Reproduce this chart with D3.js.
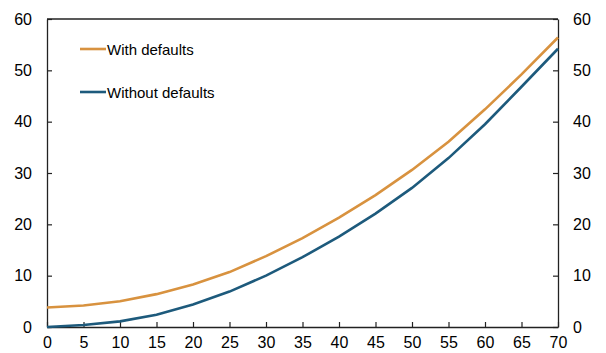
<!DOCTYPE html>
<html>
<head>
<meta charset="utf-8">
<script src="https://cdn.jsdelivr.net/npm/d3@7"></script>
<style>
  body { margin: 0; background: #fff; }
  text { font-family: "Liberation Sans", Arial, sans-serif; fill: #000; }
</style>
</head>
<body>
<div id="chart"></div>
<script>
const years = [0, 5, 10, 15, 20, 25, 30, 35, 40, 45, 50, 55, 60, 65, 70];
const withDefaults = [3.8, 4.2, 5.0, 6.4, 8.3, 10.7, 13.8, 17.3, 21.3, 25.7, 30.6, 36.1, 42.4, 49.2, 56.4];
const withoutDefaults = [0, 0.4, 1.1, 2.4, 4.4, 6.9, 10.0, 13.6, 17.6, 22.1, 27.1, 32.9, 39.5, 46.8, 54.2];
const seriesNames = ["With defaults", "Without defaults"];
const yTicks = [0, 10, 20, 30, 40, 50, 60];

const colors = ["#D8923F", "#1D5A7C"];

const fullWidth = 606;
const fullHeight = 353;
const margin = { top: 19, right: 48, bottom: 26, left: 47 };
const width = fullWidth - margin.left - margin.right;
const height = fullHeight - margin.top - margin.bottom;

const svg = d3
  .select("#chart")
  .append("svg")
  .attr("width", fullWidth)
  .attr("height", fullHeight);

const g = svg
  .append("g")
  .attr("transform", `translate(${margin.left}, ${margin.top})`);

const x = d3.scaleLinear().domain([0, 70]).range([0, width]);
const y = d3.scaleLinear().domain([0, 60]).range([height, 0]);

// frame top line
g.append("line")
  .attr("x1", 0)
  .attr("x2", width)
  .attr("y1", 0)
  .attr("y2", 0)
  .attr("stroke", "#222")
  .attr("stroke-width", 1.3);

const styleAxis = sel => {
  sel.select(".domain").attr("stroke", "#222").attr("stroke-width", 1.3);
  sel.selectAll(".tick line").attr("stroke", "#222").attr("stroke-width", 1.2);
  sel.selectAll(".tick text").style("font-size", "16px").attr("fill", "#000");
};

g.append("g")
  .attr("transform", `translate(0, ${height})`)
  .call(
    d3.axisBottom(x)
      .tickValues(years)
      .tickSizeInner(-5)
      .tickSizeOuter(0)
      .tickPadding(10)
  )
  .call(styleAxis);

g.append("g")
  .call(
    d3.axisLeft(y)
      .tickValues(yTicks)
      .tickSizeInner(-5)
      .tickSizeOuter(0)
      .tickPadding(15)
  )
  .call(styleAxis);

g.append("g")
  .attr("transform", `translate(${width}, 0)`)
  .call(
    d3.axisRight(y)
      .tickValues(yTicks)
      .tickSizeInner(-5)
      .tickSizeOuter(0)
      .tickPadding(15)
  )
  .call(styleAxis);

const line = d3
  .line()
  .x((d, i) => x(years[i]))
  .y(d => y(d));

[withDefaults, withoutDefaults].forEach((vals, i) => {
  g.append("path")
    .datum(vals)
    .attr("fill", "none")
    .attr("stroke", colors[i])
    .attr("stroke-width", 2.6)
    .attr("d", line);
});

// legend
const legend = svg.append("g");
seriesNames.forEach((name, i) => {
  const ly = 49 + i * 43;
  legend.append("line")
    .attr("x1", 80)
    .attr("x2", 106)
    .attr("y1", ly)
    .attr("y2", ly)
    .attr("stroke", colors[i])
    .attr("stroke-width", 2.6);
  legend.append("text")
    .attr("x", 107)
    .attr("y", ly + 5.5)
    .style("font-size", "15px")
    .text(name);
});
</script>
</body>
</html>
